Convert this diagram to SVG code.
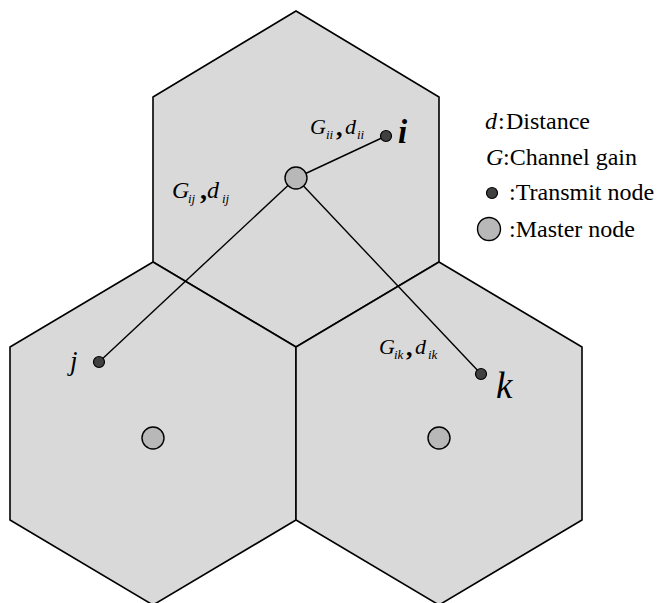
<svg xmlns="http://www.w3.org/2000/svg" width="660" height="603" viewBox="0 0 660 603">
<style>
.hex{fill:#d9d9d9;stroke:#000;stroke-width:1.6;stroke-linejoin:miter}
.edge{stroke:#000;stroke-width:1.4;fill:none}
.master{fill:#b8b8b8;stroke:#000;stroke-width:1.4}
.tx{fill:#404040;stroke:#000;stroke-width:1.2}
text{fill:#000;font-family:"Liberation Serif","Times New Roman",serif}
.it{font-style:italic}
.lg{font-size:24px}
.sub{font-size:13px;font-style:italic}
.cm{font-weight:bold}
</style>
<rect width="660" height="603" fill="#fff"/>
<g id="cells">
<polygon id="cell-top" class="hex" points="296,11 439,97 439,262 296,347 153,262 153,97"/>
<polygon id="cell-left" class="hex" points="153,262 296,347 296,520 153,605 10,520 10,347"/>
<polygon id="cell-right" class="hex" points="439,262 582,347 582,520 439,605 296,520 296,347"/>
</g>
<g id="connectors">
<line class="edge" x1="296" y1="178" x2="386" y2="136"/>
<line class="edge" x1="296" y1="178" x2="99" y2="362"/>
<line class="edge" x1="296" y1="178" x2="481" y2="374"/>
</g>
<g id="master-top"><circle class="master" cx="296" cy="178" r="11"/></g>
<g id="master-left"><circle class="master" cx="153" cy="438" r="11"/></g>
<g id="master-right"><circle class="master" cx="439" cy="438" r="11"/></g>
<g id="node-i"><circle class="tx" cx="386" cy="136" r="5.5"/><text class="it" x="398" y="143" font-size="33" font-weight="bold">i</text></g>
<g id="node-j"><circle class="tx" cx="99" cy="362" r="5.5"/><text class="it" x="70" y="370" font-size="27">j</text></g>
<g id="node-k"><circle class="tx" cx="481" cy="374" r="5.5"/><text class="it" x="496" y="398" font-size="37">k</text></g>
<g id="label-ii">
<text class="it" x="310" y="134" font-size="22">G</text><text class="sub" x="326" y="139">ii</text>
<text class="cm" x="336" y="136" font-size="26">,</text>
<text class="it" x="345" y="134" font-size="22">d</text><text class="sub" x="357" y="139">ii</text>
</g>
<g id="label-ij">
<text class="it" x="172" y="198" font-size="24">G</text><text class="sub" x="188" y="203">ij</text>
<text class="cm" x="200" y="199" font-size="28">,</text>
<text class="it" x="207" y="198" font-size="24">d</text><text class="sub" x="222" y="203">ij</text>
</g>
<g id="label-ik">
<text class="it" x="379" y="354" font-size="22">G</text><text class="sub" x="394" y="359">ik</text>
<text class="cm" x="406" y="356" font-size="26">,</text>
<text class="it" x="415" y="354" font-size="22">d</text><text class="sub" x="428" y="359">ik</text>
</g>
<g id="legend">
<text class="lg" y="129"><tspan class="it" x="485">d</tspan><tspan x="498">:</tspan><tspan x="506">Distance</tspan></text>
<text class="lg" y="165"><tspan class="it" x="486">G</tspan><tspan x="503">:Channel gain</tspan></text>
<circle class="tx" cx="492" cy="193" r="5.5"/>
<text class="lg" x="509" y="200">:Transmit node</text>
<circle class="master" cx="489" cy="229" r="11.5"/>
<text class="lg" x="509" y="237">:Master node</text>
</g>
</svg>
